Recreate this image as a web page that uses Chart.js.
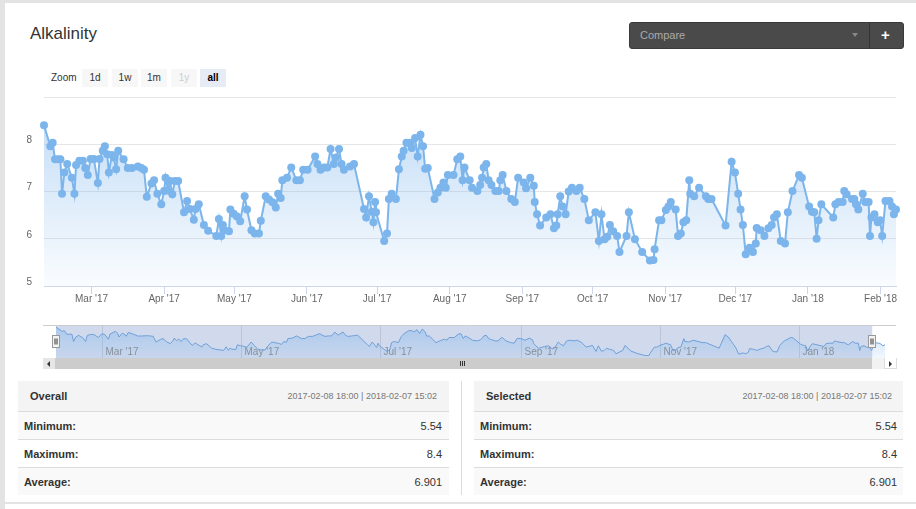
<!DOCTYPE html>
<html>
<head>
<meta charset="utf-8">
<title>Alkalinity</title>
<script src="https://cdn.jsdelivr.net/npm/chart.js@4.4.1/dist/chart.umd.min.js"></script>
<style>
  body { margin: 0; width: 916px; height: 509px; overflow: hidden; background: #fff; position: relative;
         font-family: "Liberation Sans", Arial, sans-serif; color: #333; }
  .abs { position: absolute; }
  #title { left: 30px; top: 24px; font-size: 17px; color: #333; }
  #compare { left: 629px; top: 22px; width: 273px; height: 25px; background: #4a4a4a; border: 1px solid #3a3a3a; border-radius: 3px; }
  #compare .txt { position: absolute; left: 10px; top: 6px; font-size: 11px; color: #aaa; }
  #compare .caret { position: absolute; left: 222px; top: 10px; width: 0; height: 0; border-left: 3px solid transparent; border-right: 3px solid transparent; border-top: 4px solid #888; }
  #compare .sep { position: absolute; left: 239px; top: 0; width: 1px; height: 25px; background: #333; }
  #compare .plus { position: absolute; left: 251px; top: 3px; font-size: 15px; font-weight: bold; color: #fff; }
  #zoomLbl { left: 51px; top: 72px; font-size: 10px; color: #333; }
  .zbtn { position: absolute; top: 69px; height: 18px; width: 26px; background: #f7f7f7; font-size: 10px; line-height: 17px; text-align: center; color: #333; }
  .zbtn.off { color: #ccc; }
  .zbtn.on { background: #e6ebf5; font-weight: bold; color: #000; }
  .panel { position: absolute; top: 381px; height: 114px; }
  .panel .head { height: 30px; background: #f4f4f4; border-bottom: 1px solid #dcdcdc; position: relative; }
  .panel .head .name { position: absolute; top: 9px; font-size: 11px; font-weight: bold; color: #333; }
  .panel .head .range { position: absolute; top: 10px; font-size: 9px; color: #777; }
  .panel .row { height: 27px; border-bottom: 1px solid #dcdcdc; position: relative; font-size: 11px; }
  .panel .row:last-child { border-bottom: none; }
  .panel .row.alt { background: #f9f9f9; }
  .panel .row .lbl { position: absolute; left: 6px; top: 8px; font-weight: bold; }
  .panel .row .val { position: absolute; top: 8px; }
</style>
</head>
<body>
<div class="abs" style="left:0;top:0;width:916px;height:3px;background:#e3e3e3"></div>
<div class="abs" style="left:0;top:0;width:5px;height:509px;background:#e3e3e3"></div>
<div class="abs" style="left:5px;top:502px;width:911px;height:2px;background:#e3e3e3"></div>

<div id="title" class="abs">Alkalinity</div>
<div id="compare" class="abs">
  <span class="txt">Compare</span><span class="caret"></span><span class="sep"></span><span class="plus">+</span>
</div>
<div id="zoomLbl" class="abs">Zoom</div>
<div id="zoomBtns"></div>

<canvas id="main" class="abs" width="916" height="237" style="left:0;top:79px"></canvas>
<canvas id="nav" class="abs" width="916" height="50" style="left:0;top:320px"></canvas>

<!-- scrollbar under the navigator -->
<div class="abs" style="left:43px;top:358px;width:12px;height:11px;background:#e6e6e6"></div>
<div class="abs" style="left:47px;top:361px;width:0;height:0;border-top:3px solid transparent;border-bottom:3px solid transparent;border-right:3px solid #333"></div>
<div class="abs" style="left:55px;top:358px;width:817px;height:11px;background:#cccccc"></div>
<div class="abs" style="left:872px;top:358px;width:12px;height:11px;background:#f2f2f2"></div>
<div class="abs" style="left:884px;top:358px;width:11px;height:10px;background:#fff;border:1px solid #ddd;border-top:none"></div>
<div class="abs" style="left:889px;top:361px;width:0;height:0;border-top:3px solid transparent;border-bottom:3px solid transparent;border-left:3px solid #333"></div>
<div class="abs" style="left:460px;top:361px;width:1px;height:5px;background:#333"></div>
<div class="abs" style="left:462px;top:361px;width:1px;height:5px;background:#333"></div>
<div class="abs" style="left:464px;top:361px;width:1px;height:5px;background:#333"></div>

<div class="abs" style="left:461px;top:381px;width:1px;height:114px;background:#dcdcdc"></div>
<div id="panels"></div>

<script>
// ── Data ─────────────────────────────────────────────────────
// x = days since 2017-02-08 00:00, y = alkalinity reading

const days = [
  0.7, 3.4, 4.4, 5.4, 6.8, 7.7, 8.4, 9.4, 10.6, 12.6, 13.7, 14.4, 15.8, 17.3, 18.3, 19.4,
  20.6, 22.0, 23.7, 24.4, 25.8, 26.7, 27.7, 28.4, 29.7, 30.5, 31.5, 32.4, 34.7, 36.5, 38.3,
  40.8, 42.3, 43.4, 44.6, 46.6, 47.7, 49.1, 50.8, 52.0, 52.6, 53.7, 54.5, 55.5, 56.6, 58.0,
  60.5, 61.8, 63.0, 64.7, 65.4, 66.8, 69.0, 70.8,
  74.3, 75.4, 76.4, 77.1, 77.8, 79.7, 80.3, 81.7, 83.1, 84.5, 86.4, 87.4, 89.3, 90.7, 92.5,
  93.3, 95.4, 96.8, 98.3, 99.7, 100.7, 101.8, 102.5, 104.5, 106.3, 108.5, 110.0, 111.4,
  113.3, 116.5, 117.5, 118.8, 120.3, 121.7, 123.1, 124.5, 125.4, 126.7, 127.8, 128.8,
  131.4, 133.1, 137.4, 138.3, 139.5, 140.7, 141.4, 142.1, 142.5,
  146.0, 147.2, 148.0, 149.2, 151.0, 152.3, 153.5, 154.3, 155.5, 156.9, 157.8, 159.2,
  160.3, 161.5, 162.6, 163.5, 164.6, 167.5, 168.9, 170.0, 171.3, 172.3, 173.2, 175.6,
  177.2, 178.5, 179.5, 180.3, 182.5, 183.5, 185.8, 187.0, 187.8, 188.5, 189.6, 190.6,
  191.8, 193.5, 194.9, 195.6, 196.6, 198.2, 200.3, 201.8, 203.2, 205.6, 206.6, 208.4,
  209.9, 210.3, 211.3, 212.6, 215.2, 217.0, 218.5, 219.5,
  220.1, 221.2, 222.2, 223.5, 224.8, 226.2, 228.1, 229.5, 231.5, 233.4, 236.2, 237.7,
  238.8, 240.1, 241.3, 242.4, 243.8, 245.5, 246.5, 249.5, 250.5, 253.1, 256.2, 259.5,
  261.0, 261.5, 263.4, 264.4, 266.3, 267.4, 268.4, 270.5, 271.5, 272.7, 273.8, 275.0,
  276.3, 276.7, 278.4, 280.5, 283.4, 284.4, 285.8,
  291.8, 294.4, 295.8, 297.2, 298.2, 299.2, 300.4, 302.1, 303.5, 304.7, 305.1, 306.8,
  308.4, 310.1, 311.5, 312.5, 313.7, 315.4, 317.2, 318.4, 320.4, 323.2, 324.4, 327.5,
  328.7, 329.7, 330.7, 331.5, 332.7, 337.8, 338.7, 340.1, 341.8, 342.5, 343.5, 345.8,
  346.8, 347.5, 348.5, 350.4, 351.5, 352.9, 353.5, 354.1, 355.4, 356.8, 357.8, 358.7,
  360.1, 361.8, 362.9, 363.7, 364.6
];

const alkalinity = [
  8.40, 7.96, 8.03, 7.68, 7.68, 7.68, 6.95, 7.40, 7.58, 7.29, 6.95, 7.56, 7.65, 7.65, 7.50, 7.35,
  7.69, 7.69, 7.18, 7.69, 7.86, 7.96, 7.79, 7.40, 7.77, 7.72, 7.47, 7.86, 7.68, 7.50, 7.50,
  7.53, 7.50, 7.46, 6.89, 7.17, 7.24, 6.95, 6.73, 7.01, 7.29, 7.02, 7.22, 6.94, 7.22, 7.22,
  6.56, 6.80, 6.63, 6.40, 6.63, 6.73, 6.29, 6.17,
  6.06, 6.42, 6.06, 6.29, 6.18, 6.16, 6.62, 6.53, 6.47, 6.37, 6.90, 6.62, 6.18, 6.11, 6.11,
  6.38, 6.90, 6.83, 6.77, 6.66, 6.95, 6.86, 7.24, 7.29, 7.51, 7.24, 7.24, 7.46,
  7.46, 7.74, 7.58, 7.46, 7.51, 7.51, 7.90, 7.58, 7.72, 7.90, 7.58, 7.46,
  7.53, 7.58, 6.63, 6.45, 6.90, 6.57, 6.35, 6.78, 6.56,
  5.95, 6.11, 6.84, 6.95, 6.84, 7.47, 7.74, 7.86, 8.03, 8.03, 7.92, 8.13,
  7.74, 8.20, 7.96, 7.48, 7.50, 6.84, 6.98, 7.08, 7.19, 7.08, 7.35, 7.35,
  7.68, 7.74, 7.24, 7.51, 7.24, 7.08, 7.01, 7.14, 7.29, 7.51, 7.58, 7.24,
  7.14, 7.01, 7.01, 7.24, 7.35, 7.01, 6.84, 6.78, 7.29, 7.19, 7.07, 7.29,
  7.12, 6.78, 6.52, 6.28, 6.45, 6.52, 6.22, 6.28,
  6.52, 6.90, 6.68, 6.52, 7.00, 7.08, 7.01, 7.08, 6.84, 6.39, 6.56, 5.95,
  6.52, 5.99, 6.04, 6.29, 6.16, 6.06, 5.72, 6.06, 6.56, 5.99, 5.72, 5.54,
  5.55, 5.78, 6.39, 6.39, 6.61, 6.68, 6.78, 6.62, 6.06, 6.11, 6.35, 6.39,
  7.24, 6.95, 6.90, 7.08, 6.90, 6.84, 6.84,
  6.28, 7.63, 7.40, 6.95, 6.62, 6.29, 5.67, 5.81, 5.72, 5.90, 6.23, 6.18,
  6.06, 6.22, 6.29, 6.45, 6.52, 5.95, 5.90, 6.56, 7.01, 7.35, 7.29, 6.68,
  6.57, 6.56, 6.00, 6.39, 6.73, 6.45, 6.73, 6.78, 6.78, 7.01, 6.94, 6.84,
  6.84, 6.73, 6.62, 6.95, 6.78, 6.78, 6.06, 6.45, 6.52, 6.35, 6.39, 6.06,
  6.80, 6.80, 6.68, 6.52, 6.62
];

// month starts, in the same day units
const monthDays = [21, 52, 82, 113, 143, 174, 205, 235, 266, 296, 327, 358];
const monthLabels = ["Mar '17", "Apr '17", "May '17", "Jun '17", "Jul '17", "Aug '17",
                     "Sep '17", "Oct '17", "Nov '17", "Dec '17", "Jan '18", "Feb '18"];
const navMonthDays = [21, 82, 143, 205, 266, 327];
const navMonthLabels = ["Mar '17", "May '17", "Jul '17", "Sep '17", "Nov '17", "Jan '18"];

const yTicks = [5, 6, 7, 8, 9];
const yLabels = ["5", "6", "7", "8", ""];

// navigator selection, in days
const navSelection = [0.7, 359];

const zoomButtons = ["1d", "1w", "1m", "1y", "all"];
const zoomLefts = [82, 112, 141, 171, 200];

const statLabels = ["Minimum:", "Maximum:", "Average:"];
const overallStats = ["5.54", "8.4", "6.901"];
const selectedStats = ["5.54", "8.4", "6.901"];
const rangeText = "2017-02-08 18:00 | 2018-02-07 15:02";

const FONT = '"Liberation Sans", Arial, sans-serif';
const BLUE = "#7cb5ec";

// ── Page bits ────────────────────────────────────────────────

document.getElementById("zoomBtns").innerHTML = zoomButtons
  .map((b, i) => {
    const cls = b === "1y" ? "off" : b === "all" ? "on" : "";
    return `<div class="zbtn ${cls}" style="left:${zoomLefts[i]}px">${b}</div>`;
  })
  .join("");

function panelHtml(name, left, width, values, padR) {
  const rows = statLabels
    .map((l, i) => `
      <div class="row ${i !== 1 ? "alt" : ""}">
        <span class="lbl">${l}</span>
        <span class="val" style="right:${padR}px">${values[i]}</span>
      </div>`)
    .join("");
  return `
    <div class="panel" style="left:${left}px;width:${width}px">
      <div class="head">
        <span class="name" style="left:12px">${name}</span>
        <span class="range" style="right:${padR + 5}px">${rangeText}</span>
      </div>
      ${rows}
    </div>`;
}

document.getElementById("panels").innerHTML =
  panelHtml("Overall", 18, 431, overallStats, 7) +
  panelHtml("Selected", 474, 429, selectedStats, 6);

// ── Main chart ───────────────────────────────────────────────

const points = days.map((d, i) => ({ x: d, y: alkalinity[i] }));

function areaFill(top, bottom) {
  return (ctx) => {
    const a = ctx.chart.chartArea;
    if (!a) return "rgba(124,181,236,0.3)";
    const g = ctx.chart.ctx.createLinearGradient(0, a.top, 0, a.bottom);
    g.addColorStop(0, `rgba(124,181,236,${top})`);
    g.addColorStop(1, `rgba(124,181,236,${bottom})`);
    return g;
  };
}

new Chart(document.getElementById("main"), {
  type: "line",
  data: {
    datasets: [{
      data: points,
      borderColor: BLUE,
      borderWidth: 2,
      backgroundColor: areaFill(0.5, 0.04),
      fill: "start",
      tension: 0,
      clip: false,
      pointRadius: 4,
      pointBackgroundColor: BLUE,
      pointBorderWidth: 0,
    }],
  },
  options: {
    responsive: false,
    animation: false,
    devicePixelRatio: 1,
    layout: { padding: { left: 0, right: 20, top: 6, bottom: 0 } },
    plugins: { legend: { display: false }, tooltip: { enabled: false } },
    scales: {
      x: {
        type: "linear",
        min: days[0],
        max: days[days.length - 1],
        afterBuildTicks: (s) => { s.ticks = monthDays.map((v) => ({ value: v })); },
        afterFit: (s) => { s.height = 30; },
        ticks: {
          autoSkip: false,
          maxRotation: 0,
          padding: -1,
          color: "#666",
          font: { family: FONT, size: 10 },
          callback: (v) => monthLabels[monthDays.indexOf(v)] || "",
        },
        grid: { drawOnChartArea: false, drawTicks: true, tickLength: 8, tickColor: "#ccd6eb" },
        border: { color: "#ccd6eb", width: 1 },
      },
      y: {
        min: 5,
        max: 9,
        afterBuildTicks: (s) => { s.ticks = yTicks.map((v) => ({ value: v })); },
        afterFit: (s) => { s.width = 44; },
        ticks: {
          padding: 12,
          labelOffset: -4,
          color: "#666",
          font: { family: FONT, size: 10 },
          callback: (v) => yLabels[yTicks.indexOf(v)],
        },
        grid: { color: "#e6e6e6", drawTicks: false },
        border: { display: false },
      },
    },
  },
});

// ── Navigator ────────────────────────────────────────────────

const navDecor = {
  id: "navDecor",
  beforeDatasetsDraw(chart) {
    const { ctx, chartArea: a, scales: { x } } = chart;
    const x0 = x.getPixelForValue(navSelection[0]);
    const x1 = x.getPixelForValue(navSelection[1]);
    ctx.save();
    ctx.fillStyle = "rgba(102,133,194,0.3)";
    ctx.fillRect(x0, a.top, x1 - x0, a.bottom - a.top);
    ctx.strokeStyle = "rgba(0,0,0,0.1)";
    ctx.lineWidth = 1;
    ctx.fillStyle = "#888";
    ctx.font = `10px ${FONT}`;
    ctx.textBaseline = "middle";
    navMonthDays.forEach((d, i) => {
      const px = Math.round(x.getPixelForValue(d)) + 0.5;
      ctx.beginPath();
      ctx.moveTo(px, a.top);
      ctx.lineTo(px, a.bottom);
      ctx.stroke();
      ctx.fillText(navMonthLabels[i], px + 3, a.bottom - 6);
    });
    ctx.restore();
  },
  afterDatasetsDraw(chart) {
    const { ctx, chartArea: a, scales: { x } } = chart;
    ctx.save();
    ctx.strokeStyle = "#cccccc";
    ctx.lineWidth = 1;
    ctx.beginPath();
    ctx.moveTo(43, a.top - 0.5);
    ctx.lineTo(896, a.top - 0.5);
    ctx.stroke();
    // handles at the selection edges
    navSelection.forEach((d) => {
      const px = Math.round(x.getPixelForValue(d));
      const hx = px - 3.5, hy = a.top + 9.5;
      ctx.fillStyle = "#f2f2f2";
      ctx.strokeStyle = "#999";
      ctx.fillRect(hx, hy, 7, 12);
      ctx.strokeRect(hx, hy, 7, 12);
      ctx.strokeStyle = "#333";
      ctx.beginPath();
      ctx.moveTo(px - 1, hy + 3); ctx.lineTo(px - 1, hy + 9);
      ctx.moveTo(px + 1, hy + 3); ctx.lineTo(px + 1, hy + 9);
      ctx.stroke();
    });
    ctx.restore();
  },
};

new Chart(document.getElementById("nav"), {
  type: "line",
  data: {
    datasets: [{
      data: points,
      borderColor: "#6f9fd8",
      borderWidth: 1,
      backgroundColor: areaFill(0.45, 0.1),
      fill: "start",
      tension: 0,
      pointRadius: 0,
    }],
  },
  options: {
    responsive: false,
    animation: false,
    devicePixelRatio: 1,
    layout: { padding: { left: 56, right: 31, top: 6, bottom: 12 } },
    plugins: { legend: { display: false }, tooltip: { enabled: false } },
    scales: {
      x: { type: "linear", display: false, min: days[0], max: days[days.length - 1] },
      y: { display: false, min: 5.3, max: 8.5 },
    },
  },
  plugins: [navDecor],
});
</script>
</body>
</html>
